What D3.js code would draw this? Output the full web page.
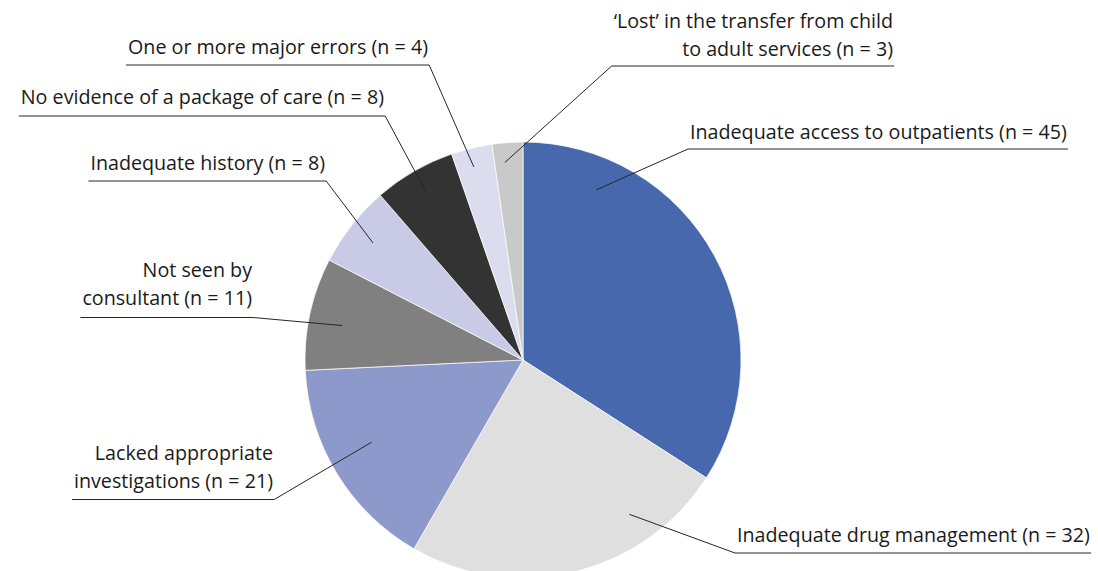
<!DOCTYPE html>
<html>
<head>
<meta charset="utf-8">
<script src="https://cdn.jsdelivr.net/npm/d3@7/dist/d3.min.js"></script>
<style>
  html, body { margin: 0; padding: 0; background: #fff; }
  svg { display: block; }
  .lbl { font-family: "Open Sans", "Noto Sans", sans-serif; fill: #1a1a1a; }
</style>
</head>
<body>
<div id="chart"></div>
<script>
// pie chart of clinical problems, clockwise from 12 o'clock

const width = 1098,
      height = 571;

const categories = [
  "Inadequate access to outpatients",
  "Inadequate drug management",
  "Lacked appropriate investigations",
  "Not seen by consultant",
  "Inadequate history",
  "No evidence of a package of care",
  "One or more major errors",
  "'Lost' in the transfer from child to adult services"
];
const counts = [45, 32, 21, 11, 8, 8, 4, 3];
const colors = ["#4868ae", "#dfdfdf", "#8e99cb", "#808080", "#c9cbe6", "#333333", "#dcdcef", "#c9c9c9"];

// label text lines as printed in the figure
const labelLines = [
  ["Inadequate access to outpatients (n = 45)"],
  ["Inadequate drug management (n = 32)"],
  ["Lacked appropriate", "investigations (n = 21)"],
  ["Not seen by", "consultant (n = 11)"],
  ["Inadequate history (n = 8)"],
  ["No evidence of a package of care (n = 8)"],
  ["One or more major errors (n = 4)"],
  ["\u2018Lost\u2019 in the transfer from child", "to adult services (n = 3)"]
];

// label placement: text anchor, first baseline, underline y, and where the
// leader touches the slice (fraction along the slice, fraction of radius)
const labelLayout = [
  { x: 690, anchor: "start", y: 139, uy: 149,   t: 0.19, rf: 0.85 },
  { x: 737, anchor: "start", y: 542, uy: 553,   t: 0.26, rf: 0.86 },
  { x: 273, anchor: "end",   y: 460, uy: 499.5, t: 0.55, rf: 0.79 },
  { x: 252, anchor: "end",   y: 277, uy: 317.5, t: 0.45, rf: 0.845 },
  { x: 325, anchor: "end",   y: 170, uy: 181,   t: 0.49, rf: 0.873 },
  { x: 384, anchor: "end",   y: 104, uy: 116,   t: 0.50, rf: 0.89 },
  { x: 428, anchor: "end",   y: 54,  uy: 65,    t: 0.44, rf: 0.914 },
  { x: 893, anchor: "end",   y: 28,  uy: 66,    t: 0.36, rf: 0.91 }
];
const lineGap = 27.5;

const cx = 523, cy = 360, radius = 218;

const svg = d3.select("#chart").append("svg")
    .attr("width", width)
    .attr("height", height);

const pie = d3.pie().sort(null).value(d => d.n);
const arcs = pie(counts.map((n, i) => ({ n: n, name: categories[i], i: i })));

const arc = d3.arc().innerRadius(0).outerRadius(radius);

const g = svg.append("g").attr("transform", `translate(${cx},${cy})`);

g.selectAll("path.slice")
  .data(arcs)
  .enter().append("path")
    .attr("class", "slice")
    .attr("d", arc)
    .attr("fill", (d, i) => colors[i])
    .attr("stroke", "#ffffff")
    .attr("stroke-width", 0.7);

// text, sized so that the longest single-line label matches the figure
const labels = svg.append("g");
let fontSize = 18;
const probe = labels.append("text").attr("class", "lbl")
    .style("font-size", fontSize + "px").text(labelLines[0][0]);
fontSize = fontSize * 377 / probe.node().getComputedTextLength();
probe.remove();

arcs.forEach(function(d, i) {
  const lay = labelLayout[i];
  const txt = labels.append("text")
      .attr("class", "lbl")
      .attr("text-anchor", lay.anchor)
      .style("font-size", fontSize.toFixed(2) + "px");
  labelLines[i].forEach(function(s, k) {
    txt.append("tspan").attr("x", lay.x).attr("y", lay.y + k * lineGap).text(s);
  });
  const bb = txt.node().getBBox();
  const left = bb.x - 2, right = bb.x + bb.width + 1;

  // point inside the slice
  const a = d.startAngle + lay.t * (d.endAngle - d.startAngle);
  const px = cx + radius * lay.rf * Math.sin(a),
        py = cy - radius * lay.rf * Math.cos(a);

  const leftSide = px > (left + right) / 2;
  const near = leftSide ? right : left,
        far = leftSide ? left : right;

  labels.append("path")
      .attr("d", `M${px},${py}L${near},${lay.uy}H${far}`)
      .attr("fill", "none")
      .attr("stroke", "#262626")
      .attr("stroke-width", 1);
});
</script>
</body>
</html>
